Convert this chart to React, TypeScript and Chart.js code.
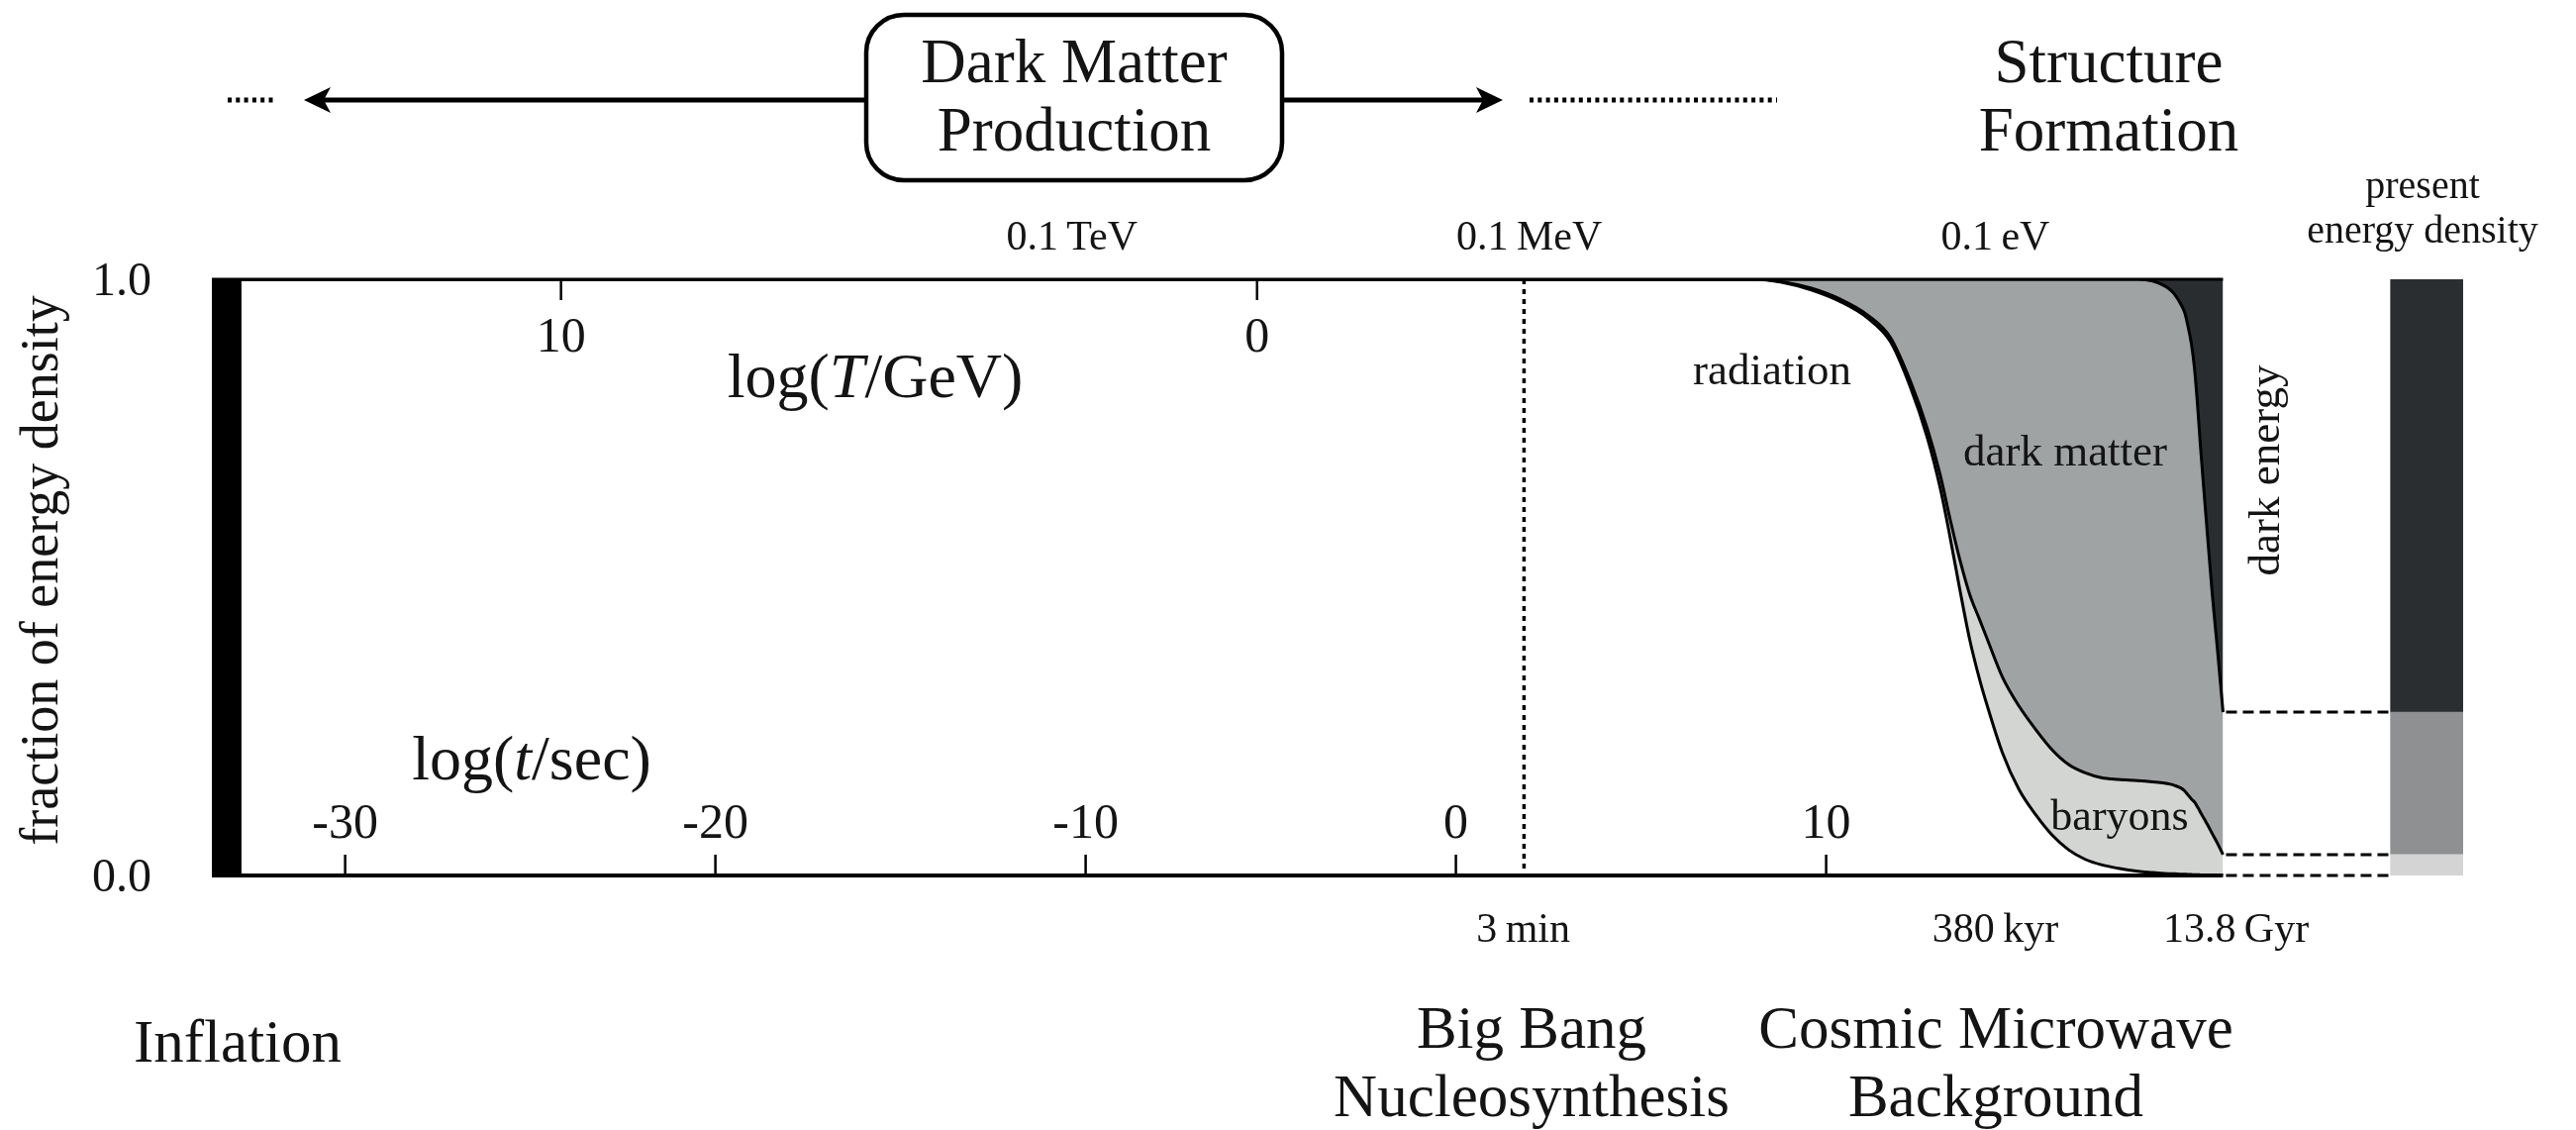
import React, { useEffect, useRef } from "react";
import { Chart, registerables } from "chart.js";

Chart.register(...registerables);

// ---------- data (x = log10(t / sec), y = cumulative fraction of energy density) ----------
const logTime = [
  -33.6, 8.05, 8.8, 9.6, 10.4, 11.12, 11.74, 12.27, 12.73, 13.08, 13.34, 13.61, 13.88, 14.14,
  14.33, 14.76, 15.21, 15.67, 16.1, 16.55, 17.0, 17.43, 17.89, 18.42, 18.82, 19.14, 19.3, 19.41,
  19.6, 19.68, 19.76, 19.87, 19.95, 20.03, 20.11, 20.21, 20.32, 20.43, 20.56, 20.72,
];
// upper edge of the radiation band
const radiationTop = [
  1, 1.0, 0.995, 0.982, 0.962, 0.935, 0.895, 0.82, 0.735, 0.65, 0.57, 0.48, 0.395, 0.33,
  0.289, 0.206, 0.144, 0.101, 0.068, 0.043, 0.027, 0.018, 0.012, 0.007, 0.005, 0.0035, 0.003, 0.0028,
  0.002, 0.002, 0.0018, 0.0015, 0.0013, 0.0012, 0.001, 0.0008, 0.0006, 0.0004, 0.0002, 0,
];
// upper edge of the baryon band
const baryonTop = [
  1, 1.0, 0.996, 0.985, 0.966, 0.94, 0.902, 0.83, 0.75, 0.672, 0.6, 0.53, 0.471, 0.43,
  0.4, 0.333, 0.284, 0.244, 0.211, 0.186, 0.172, 0.164, 0.161, 0.159, 0.157, 0.155, 0.153, 0.151,
  0.146, 0.142, 0.136, 0.128, 0.123, 0.115, 0.106, 0.095, 0.083, 0.07, 0.055, 0.035,
];
// upper edge of the dark matter band (dark energy above)
const matterTop = [
  1, 1, 1, 1, 1, 1, 1, 1, 1, 1, 1, 1, 1, 1,
  1, 1, 1, 1, 1, 1, 1, 1, 1, 1, 0.997, 0.989, 0.982, 0.975,
  0.956, 0.945, 0.925, 0.89, 0.85, 0.79, 0.72, 0.64, 0.555, 0.471, 0.385, 0.274,
];

// present energy density bar: [start, end] for baryons, dark matter, dark energy
const presentNames = ["baryons", "dark matter", "dark energy"];
const presentStart = [0, 0.035, 0.274];
const presentEnd = [0.035, 0.274, 1.0];
const presentLogTime = 26.22;

const bottomTickValues = [-30, -20, -10, 0, 10];
const bottomTickLabels = ["-30", "-20", "-10", "0", "10"];
const topTickLabels = ["10", "0"];
const topTickLogTime = [-24.17, -5.37];
const energyLabels = ["0.1\u2009TeV", "0.1\u2009MeV", "0.1\u2009eV"];
const energyLogTime = [-10.37, 1.98, 14.57];
const epochLabels = ["3\u2009min", "380\u2009kyr", "13.8\u2009Gyr"];
const epochLogTime = [1.82, 14.57, 21.07];
const yTickValues = [1, 0];
const yTickLabels = ["1.0", "0.0"];

const T_MIN = -33.6;
const T_MAX = 29.13;
const T_END = 20.72;
const INFLATION_END = -32.8;
const BBN_LOG_TIME = 1.84;

// ---------- styles ----------
const FAMILY = "Liberation Serif";
const FONT = `"${FAMILY}", "DejaVu Serif", serif`;
const INK = "#141414";
const C_BARYON = "#d3d5d3";
const C_MATTER = "#a0a3a4";
const C_DE = "#2a2d30";
const BAR_COLORS = ["#d4d4d4", "#8f9091", "#2b2e31"];

type Part = [string, boolean];

function drawParts(ctx: CanvasRenderingContext2D, parts: Part[], x: number, baseline: number, size: number, align = "center") {
  let total = 0;
  const widths = parts.map(([s, it]) => {
    ctx.font = `${it ? "italic " : ""}${size}px ${FONT}`;
    const w = ctx.measureText(s).width;
    total += w;
    return w;
  });
  let cx = align === "center" ? x - total / 2 : align === "right" ? x - total : x;
  ctx.textAlign = "left";
  ctx.textBaseline = "alphabetic";
  parts.forEach(([s, it], i) => {
    ctx.font = `${it ? "italic " : ""}${size}px ${FONT}`;
    ctx.fillText(s, cx, baseline);
    cx += widths[i];
  });
}

function text(ctx: CanvasRenderingContext2D, s: string, x: number, baseline: number, size: number, align = "center") {
  drawParts(ctx, [[s, false]], x, baseline, size, align);
}

function seg(ctx: CanvasRenderingContext2D, x1: number, y1: number, x2: number, y2: number) {
  ctx.beginPath();
  ctx.moveTo(x1, y1);
  ctx.lineTo(x2, y2);
  ctx.stroke();
}

const overlayPlugin = {
  id: "overlay",
  afterDatasetsDraw(chart: any) {
    const { ctx } = chart;
    const xs = chart.scales.x;
    const ys = chart.scales.y;
    const px = (t: number) => xs.getPixelForValue(t);
    const py = (v: number) => ys.getPixelForValue(v);
    ctx.save();

    // inflation bar
    ctx.fillStyle = "#000";
    ctx.fillRect(px(T_MIN), py(1), px(INFLATION_END) - px(T_MIN), py(0) - py(1));

    // frame
    ctx.strokeStyle = "#000";
    ctx.lineCap = "butt";
    ctx.lineWidth = 3;
    seg(ctx, px(T_MIN), py(1), px(T_END), py(1));
    ctx.lineWidth = 4;
    seg(ctx, px(T_MIN), py(0), px(T_END), py(0));

    // ticks
    ctx.lineWidth = 2.5;
    bottomTickValues.forEach((t) => seg(ctx, px(t), py(0), px(t), py(0) - 21));
    topTickLogTime.forEach((t) => seg(ctx, px(t), py(1), px(t), py(1) + 21));

    // BBN dotted line
    ctx.lineWidth = 3.5;
    ctx.setLineDash([5, 5]);
    seg(ctx, px(BBN_LOG_TIME), py(1), px(BBN_LOG_TIME), py(0));

    // dashed connectors to present bar
    const bar = chart.getDatasetMeta(4).data[0];
    const barLeft = bar ? bar.x - bar.width / 2 : px(presentLogTime) - 36;
    ctx.setLineDash([11, 6]);
    ctx.lineWidth = 3;
    [presentEnd[1], presentEnd[0], presentStart[0]].forEach((v) => seg(ctx, px(T_END) + 3, py(v), barLeft, py(v)));
    ctx.setLineDash([]);

    // header: box + arrows
    const boxL = 875, boxR = 1295, boxT = 15, boxB = 182, r = 38;
    ctx.lineWidth = 4.5;
    ctx.beginPath();
    ctx.moveTo(boxL + r, boxT);
    ctx.arcTo(boxR, boxT, boxR, boxB, r);
    ctx.arcTo(boxR, boxB, boxL, boxB, r);
    ctx.arcTo(boxL, boxB, boxL, boxT, r);
    ctx.arcTo(boxL, boxT, boxR, boxT, r);
    ctx.closePath();
    ctx.stroke();

    const ay = 101;
    ctx.lineWidth = 5;
    seg(ctx, boxL, ay, 326, ay);
    seg(ctx, boxR, ay, 1498, ay);
    ctx.fillStyle = "#000";
    ctx.beginPath();
    ctx.moveTo(307, ay);
    ctx.lineTo(334, ay - 13);
    ctx.lineTo(327, ay);
    ctx.lineTo(334, ay + 13);
    ctx.closePath();
    ctx.fill();
    ctx.beginPath();
    ctx.moveTo(1518, ay);
    ctx.lineTo(1491, ay - 13);
    ctx.lineTo(1498, ay);
    ctx.lineTo(1491, ay + 13);
    ctx.closePath();
    ctx.fill();
    ctx.setLineDash([4, 4.3]);
    seg(ctx, 230, ay, 278, ay);
    seg(ctx, 1545, ay, 1795, ay);
    ctx.setLineDash([]);

    // texts
    ctx.fillStyle = INK;
    // y axis
    yTickValues.forEach((v, i) => text(ctx, yTickLabels[i], 153, py(v) + 16, 48, "right"));
    ctx.save();
    ctx.translate(58, 576);
    ctx.rotate(-Math.PI / 2);
    text(ctx, "fraction of energy density", 0, 0, 54);
    ctx.restore();

    // bottom (time) tick labels inside plot
    bottomTickValues.forEach((t, i) => text(ctx, bottomTickLabels[i], px(t), py(0) - 38, 50));
    // top (temperature) tick labels
    topTickLogTime.forEach((t, i) => text(ctx, topTickLabels[i], px(t), py(1) + 73, 50));
    drawParts(ctx, [["log(", false], ["T", true], ["/GeV)", false]], 884, 401, 64);
    drawParts(ctx, [["log(", false], ["t", true], ["/sec)", false]], 537, 787, 64);

    energyLogTime.forEach((t, i) => text(ctx, energyLabels[i], px(t), 252, 42));
    epochLogTime.forEach((t, i) => text(ctx, epochLabels[i], px(t), 951, 42));

    // region labels
    text(ctx, "radiation", 1790, 388, 45);
    text(ctx, "dark matter", 2086, 470, 45);
    text(ctx, "baryons", 2141, 838, 44);
    ctx.save();
    ctx.translate(2302, 475);
    ctx.rotate(-Math.PI / 2);
    text(ctx, "dark energy", 0, 0, 45);
    ctx.restore();

    text(ctx, "present", 2447, 200, 40);
    text(ctx, "energy density", 2447, 245, 40);

    // big labels
    const H = 63;
    text(ctx, "Dark Matter", 1085, 83, H);
    text(ctx, "Production", 1085, 152, H);
    text(ctx, "Structure", 2130, 83, H);
    text(ctx, "Formation", 2130, 152, H);
    const B = 61;
    text(ctx, "Inflation", 240, 1072, B);
    text(ctx, "Big Bang", 1547, 1058, B);
    text(ctx, "Nucleosynthesis", 1547, 1127, B);
    text(ctx, "Cosmic Microwave", 2016, 1058, B);
    text(ctx, "Background", 2016, 1127, B);

    ctx.restore();
  },
};

export default function App() {
  const ref = useRef<HTMLCanvasElement | null>(null);

  useEffect(() => {
    document.body.style.margin = "0";
    const canvas = ref.current;
    if (!canvas) return;
    const pts = (ys: number[]) => logTime.map((t, i) => ({ x: t, y: ys[i] }));
    const lineBase = {
      type: "line" as const,
      borderColor: "#000",
      borderWidth: 3,
      pointRadius: 0,
      cubicInterpolationMode: "monotone" as const,
    };
    const barSets = presentNames.map((name, i) => ({
      type: "bar" as const,
      label: "present " + name,
      data: [{ x: presentLogTime, y: [presentStart[i], presentEnd[i]] }],
      backgroundColor: BAR_COLORS[i],
      borderWidth: 0,
      barThickness: 73,
      grouped: false,
    }));
    const chart = new Chart(canvas, {
      type: "line",
      data: {
        datasets: [
          { ...lineBase, label: "radiation", data: pts(radiationTop), fill: false },
          { ...lineBase, label: "baryons", data: pts(baryonTop), fill: "-1", backgroundColor: C_BARYON },
          { ...lineBase, label: "dark matter", data: pts(matterTop), fill: "-1", backgroundColor: C_MATTER },
          { ...lineBase, label: "dark energy", data: pts(matterTop), fill: "end", backgroundColor: C_DE, borderWidth: 0 },
          ...barSets,
        ] as any,
      },
      options: {
        responsive: false,
        maintainAspectRatio: false,
        animation: false,
        layout: { padding: { left: 214, right: 2602 - 2560, top: 282, bottom: 1141 - 884 } },
        scales: {
          x: { type: "linear", min: T_MIN, max: T_MAX, display: false, offset: false, grid: { offset: false } },
          y: { type: "linear", min: 0, max: 1, display: false },
        },
        plugins: { legend: { display: false }, tooltip: { enabled: false } },
      } as any,
      plugins: [overlayPlugin],
    });
    return () => chart.destroy();
  }, []);

  return (
    <div style={{ width: 2602, height: 1141, background: "#fff" }}>
      <canvas ref={ref} width={2602} height={1141} style={{ display: "block" }} />
    </div>
  );
}
